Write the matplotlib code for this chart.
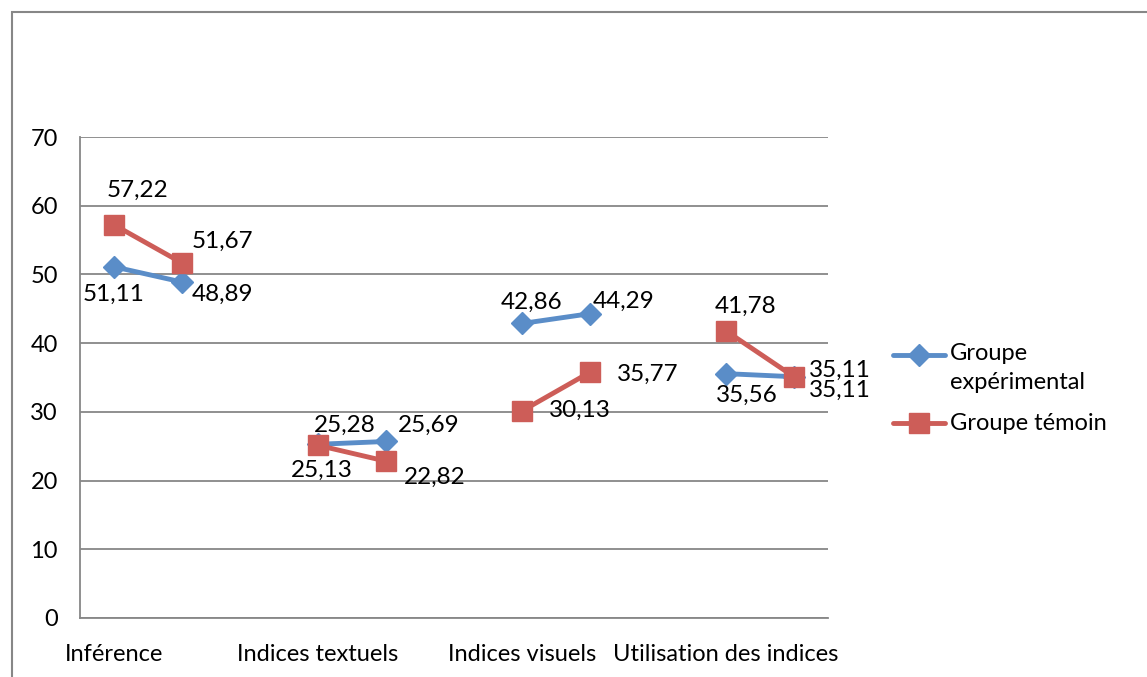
import numpy as np
import matplotlib.pyplot as plt
from matplotlib.patches import Rectangle
from matplotlib.lines import Line2D

plt.rcParams['font.family'] = ['Lato', 'DejaVu Sans']

categories = ["Inférence", "Indices textuels", "Indices visuels", "Utilisation des indices"]
experimental = [51.11, 48.89, 25.28, 25.69, 42.86, 44.29, 35.56, 35.11]
temoin = [57.22, 51.67, 25.13, 22.82, 30.13, 35.77, 41.78, 35.11]
series_names = ["Groupe\nexpérimental", "Groupe témoin"]

# label offsets in pixels (dx right, dy down) for each point
exp_offsets = [(0, 28), (40, 12), (27, -19), (43, -16), (10, -21), (34, -12), (21, 22), (46, 14)]
tem_offsets = [(24, -34), (40, -22), (4, 25), (49, 16), (58, -1), (58, 2), (20, -25), (46, -6)]

BLUE = "#5A8DC8"
RED = "#CD5D58"
GRID = "#878787"
W, H = 1147, 677

# two points per category, one empty slot between categories
positions = []
for i in range(len(categories)):
    positions += [3 * i, 3 * i + 1]
positions = np.array(positions)

def with_gaps(vals):
    full = np.full(3 * len(categories) - 1, np.nan)
    full[positions] = vals
    return full

xs = np.arange(3 * len(categories) - 1)

fig = plt.figure(figsize=(W / 100, H / 100), dpi=100)
fig.patches.append(Rectangle((12 / W, -0.1), 1.2, 1 - 12 / H + 0.1,
                             transform=fig.transFigure, fill=False,
                             edgecolor=GRID, linewidth=1.5))

ax = fig.add_axes([80 / W, 1 - 618 / H, 748 / W, 481 / H])

blue_style = dict(color=BLUE, lw=3.5, marker="D", ms=11.5)
red_style = dict(color=RED, lw=3.5, marker="s", ms=14)

ax.plot(xs, with_gaps(experimental), zorder=3, **blue_style)
ax.plot(xs, with_gaps(temoin), zorder=4, **red_style)

for vals, offs in [(experimental, exp_offsets), (temoin, tem_offsets)]:
    for x, v, (dx, dy) in zip(positions, vals, offs):
        ax.annotate(f"{v:.2f}".replace(".", ","), (x, v),
                    xytext=(dx * 0.72, -dy * 0.72), textcoords="offset points",
                    ha="center", va="center", fontsize=17.5, zorder=5)

ax.set_xlim(-0.5, len(xs) - 0.5)
ax.set_ylim(0, 70)
ax.set_yticks(np.arange(0, 71, 10))
ax.set_xticks(positions[::2])
ax.set_xticklabels(categories)
ax.tick_params(axis="both", length=0, labelsize=17)
ax.tick_params(axis="y", pad=16)
ax.tick_params(axis="x", pad=19)

ax.grid(axis="y", color=GRID, linewidth=1.3)
ax.set_axisbelow(True)
for side in ["top", "right"]:
    ax.spines[side].set_visible(False)
for side in ["left", "bottom"]:
    ax.spines[side].set_color(GRID)
    ax.spines[side].set_linewidth(1.3)

# legend: handle sits on the first line of each entry
legend_rows = [(355, blue_style, 343, "top"), (423, red_style, 424, "center")]
for (y_line, style, y_text, va), name in zip(legend_rows, series_names):
    fig.add_artist(Line2D([893 / W, 945 / W], [1 - y_line / H] * 2,
                          transform=fig.transFigure, markevery=[],
                          solid_capstyle="round", **style))
    fig.add_artist(Line2D([919 / W], [1 - y_line / H],
                          transform=fig.transFigure, **style))
    fig.text(950 / W, 1 - y_text / H, name, fontsize=17, va=va, ha="left",
             linespacing=1.45)

fig.savefig("out.png", dpi=100)
